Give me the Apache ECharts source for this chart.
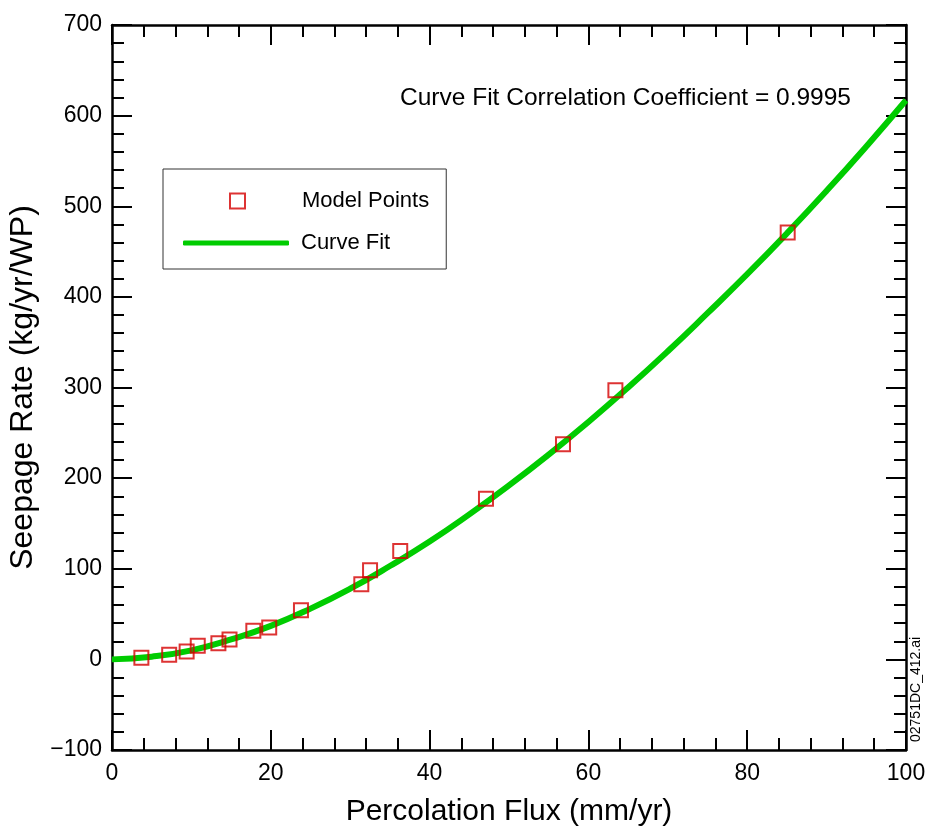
<!DOCTYPE html>
<html>
<head>
<meta charset="utf-8">
<script src="https://cdn.jsdelivr.net/npm/echarts@6/dist/echarts.min.js"></script>
<style>
  html, body { margin: 0; padding: 0; background: #fff; }
  #chart { width: 927px; height: 829px; }
</style>
</head>
<body>
<div id="chart"></div>
<script>
// model points
const fluxPoints = [3.7, 7.2, 9.4, 10.8, 13.4, 14.8, 17.8, 19.8, 23.8, 31.4, 32.5, 36.3, 47.1, 56.8, 63.4, 85.1];
const seepPoints = [1.9, 5.2, 8.8, 15.1, 17.7, 21.9, 31.7, 35.3, 54.1, 82.8, 98.4, 119.6, 177.3, 237.3, 296.9, 471];

// curve fit, read every 5 mm/yr
const fitFlux = [0, 5, 10, 15, 20, 25, 30, 35, 40, 45, 50, 55, 60, 65, 70, 75, 80, 85, 90, 95, 100];
const fitSeep = [0, 3, 10, 22, 37, 56, 78, 103, 130, 160, 192, 226, 262, 300, 340, 382, 425, 470, 517, 566, 617];

const FONT = 'Liberation Sans, Arial, sans-serif';

const chart = echarts.init(document.getElementById('chart'));

const tickCommon = {
  axisLine: { show: true, onZero: false, lineStyle: { color: '#000', width: 2.5 } },
  axisTick: { show: true, inside: true, length: 20, lineStyle: { color: '#000', width: 2 } },
  minorTick: { show: true, splitNumber: 5, length: 12, lineStyle: { color: '#000', width: 2 } },
  splitLine: { show: false }
};

chart.setOption({
  animation: false,
  backgroundColor: '#fff',
  title: {
    text: 'Curve Fit Correlation Coefficient = 0.9995',
    left: 400,
    top: 86,
    padding: 0,
    textStyle: { fontFamily: FONT, fontSize: 24.5, fontWeight: 'normal', color: '#000' }
  },
  legend: [
    {
      // boxed legend row for the fitted curve; top padding leaves room for the points row
      orient: 'vertical',
      left: 163,
      top: 169,
      padding: [63, 56, 15, 20],
      itemWidth: 106,
      itemHeight: 5,
      icon: 'roundRect',
      borderColor: '#333',
      borderWidth: 1,
      textStyle: { fontFamily: FONT, fontSize: 22, color: '#000', padding: [0, 0, 0, 7] },
      data: ['Curve Fit']
    },
    {
      orient: 'vertical',
      left: 229,
      top: 190,
      padding: 0,
      itemWidth: 15,
      itemHeight: 15,
      textStyle: { fontFamily: FONT, fontSize: 22, color: '#000', padding: [0, 0, 0, 52] },
      data: ['Model Points']
    }
  ],
  grid: { left: 112, right: 21, top: 25, bottom: 79, containLabel: false, outerBoundsMode: 'none' },
  xAxis: [
    Object.assign({
      type: 'value', min: 0, max: 100, interval: 20,
      name: 'Percolation Flux (mm/yr)',
      nameLocation: 'middle', nameGap: 47,
      nameTextStyle: { fontFamily: FONT, fontSize: 30, color: '#000' },
      axisLabel: { fontFamily: FONT, fontSize: 23, color: '#000', margin: 12 }
    }, tickCommon),
    Object.assign({
      type: 'value', min: 0, max: 100, interval: 20, position: 'top',
      axisLabel: { show: false }
    }, tickCommon)
  ],
  yAxis: [
    Object.assign({
      type: 'value', min: -100, max: 700, interval: 100,
      name: 'Seepage Rate (kg/yr/WP)',
      nameLocation: 'middle', nameGap: 63,
      nameTextStyle: { fontFamily: FONT, fontSize: 32, color: '#000' },
      axisLabel: {
        fontFamily: FONT, fontSize: 23, color: '#000', margin: 10,
        formatter: (v) => String(v).replace('-', '\u2212')
      }
    }, tickCommon),
    Object.assign({
      type: 'value', min: -100, max: 700, interval: 100, position: 'right',
      axisLabel: { show: false }
    }, tickCommon)
  ],
  graphic: [{
    type: 'text',
    x: 909,
    y: 742,
    rotation: Math.PI / 2,
    style: { text: '02751DC_412.ai', font: '14px ' + FONT, fill: '#000' }
  }],
  series: [
    {
      name: 'Curve Fit',
      type: 'line',
      smooth: true,
      showSymbol: false,
      symbol: 'none',
      z: 2,
      lineStyle: { color: '#00cc00', width: 6 },
      itemStyle: { color: '#00cc00' },
      data: fitFlux.map((x, i) => [x, fitSeep[i]])
    },
    {
      name: 'Model Points',
      type: 'scatter',
      symbol: 'rect',
      symbolSize: 14,
      z: 3,
      itemStyle: { color: 'rgba(0,0,0,0)', borderColor: '#d40000', borderWidth: 2 },
      data: fluxPoints.map((x, i) => [x, seepPoints[i]])
    }
  ]
});
</script>
</body>
</html>
